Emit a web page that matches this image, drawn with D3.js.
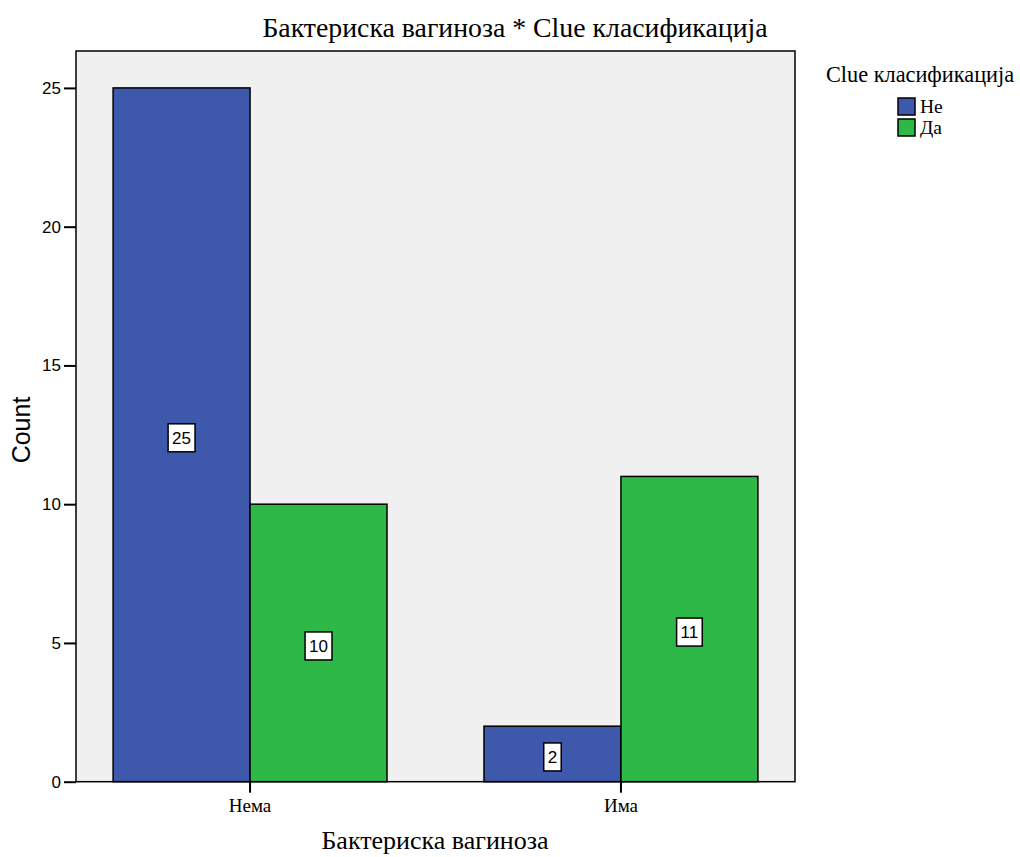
<!DOCTYPE html>
<html><head><meta charset="utf-8">
<script src="https://cdn.jsdelivr.net/npm/d3@7"></script>
<style>body{margin:0;background:#fff}svg{display:block}</style>
</head><body>
<script>
const categories = ["Нема", "Има"];
const seriesNames = ["Не", "Да"];
const valuesNe = [25, 2];
const valuesDa = [10, 11];
const yTicks = [0, 5, 10, 15, 20, 25];
const colors = ["#3e58ac", "#2eb848"];
const title = "Бактериска вагиноза * Clue класификација";
const xTitle = "Бактериска вагиноза";
const yTitle = "Count";
const legendTitle = "Clue класификација";

const W = 1020, H = 857;
const L = 76, R = 795, T = 51, B = 781.7;
const svg = d3.select("body").append("svg").attr("width", W).attr("height", H);
const serif = "'Liberation Serif', 'Times New Roman', serif";
const sans = "'Liberation Sans', Arial, sans-serif";

const x = d3.scaleBand().domain(categories).range([L, R]).paddingInner(0.2615).paddingOuter(0.1);
const xs = d3.scaleBand().domain(seriesNames).range([0, x.bandwidth()]);
const y = d3.scaleLinear().domain([0, 26.33]).range([B, T]);

svg.append("rect").attr("x", L).attr("y", T).attr("width", R - L).attr("height", B - T)
  .attr("fill", "#f0f0f0");

const data = [];
categories.forEach((c, i) => {
  data.push({cat: c, s: seriesNames[0], v: valuesNe[i], color: colors[0]});
  data.push({cat: c, s: seriesNames[1], v: valuesDa[i], color: colors[1]});
});

svg.selectAll("rect.bar").data(data).enter().append("rect").attr("class", "bar")
  .attr("x", d => x(d.cat) + xs(d.s))
  .attr("y", d => y(d.v))
  .attr("width", xs.bandwidth())
  .attr("height", d => y(0) - y(d.v))
  .attr("fill", d => d.color)
  .attr("stroke", "#000").attr("stroke-width", 1.5);

svg.append("rect").attr("x", L).attr("y", T).attr("width", R - L).attr("height", B - T)
  .attr("fill", "none").attr("stroke", "#000").attr("stroke-width", 1.5);

// value labels
const lbl = svg.selectAll("g.lbl").data(data).enter().append("g").attr("class", "lbl")
  .attr("transform", d => `translate(${x(d.cat) + xs(d.s) + xs.bandwidth() / 2},${(y(d.v) + y(0)) / 2 + 3})`);
lbl.each(function(d) {
  const g = d3.select(this);
  const t = g.append("text").text(d.v).attr("text-anchor", "middle").attr("dy", "0.35em")
    .attr("font-family", sans).attr("font-size", 17).attr("fill", "#000");
  const w = t.node().getComputedTextLength() + 8;
  g.insert("rect", "text").attr("x", -w / 2).attr("y", -14).attr("width", w).attr("height", 28)
    .attr("fill", "#fff").attr("stroke", "#000").attr("stroke-width", 1.5);
});

// y axis
const yAxis = svg.append("g").attr("transform", `translate(${L},0)`)
  .call(d3.axisLeft(y).tickValues(yTicks).tickSize(12).tickPadding(3).tickSizeOuter(0));
yAxis.select(".domain").remove();
yAxis.selectAll("line").attr("stroke", "#000").attr("stroke-width", 2);
yAxis.selectAll("text").attr("font-family", sans).attr("font-size", 17).attr("fill", "#000");

// x axis
const xAxis = svg.append("g").attr("transform", `translate(0,${B})`)
  .call(d3.axisBottom(x).tickSize(11).tickPadding(6).tickSizeOuter(0));
xAxis.select(".domain").remove();
xAxis.selectAll("line").attr("stroke", "#000").attr("stroke-width", 2);
xAxis.selectAll("text").attr("font-family", serif).attr("font-size", 19).attr("fill", "#000");

svg.append("text").attr("x", 515).attr("y", 37).attr("text-anchor", "middle")
  .attr("font-family", serif).attr("font-size", 27.8).text(title);
svg.append("text").attr("x", 435).attr("y", 849).attr("text-anchor", "middle")
  .attr("font-family", serif).attr("font-size", 26).text(xTitle);
svg.append("text").attr("transform", "translate(30,430) rotate(-90)").attr("text-anchor", "middle")
  .attr("font-family", sans).attr("font-size", 25).text(yTitle);

// legend
svg.append("text").attr("x", 826).attr("y", 82).attr("font-family", serif).attr("font-size", 22.3).text(legendTitle);
const lg = svg.selectAll("g.leg").data(seriesNames).enter().append("g").attr("class", "leg")
  .attr("transform", (d, i) => `translate(898,${98 + i * 21})`);
lg.append("rect").attr("width", 17).attr("height", 17).attr("fill", (d, i) => colors[i])
  .attr("stroke", "#000").attr("stroke-width", 1.5);
lg.append("text").attr("x", 22).attr("y", 15).attr("font-family", serif).attr("font-size", 19.5).text(d => d);
</script>
</body></html>
